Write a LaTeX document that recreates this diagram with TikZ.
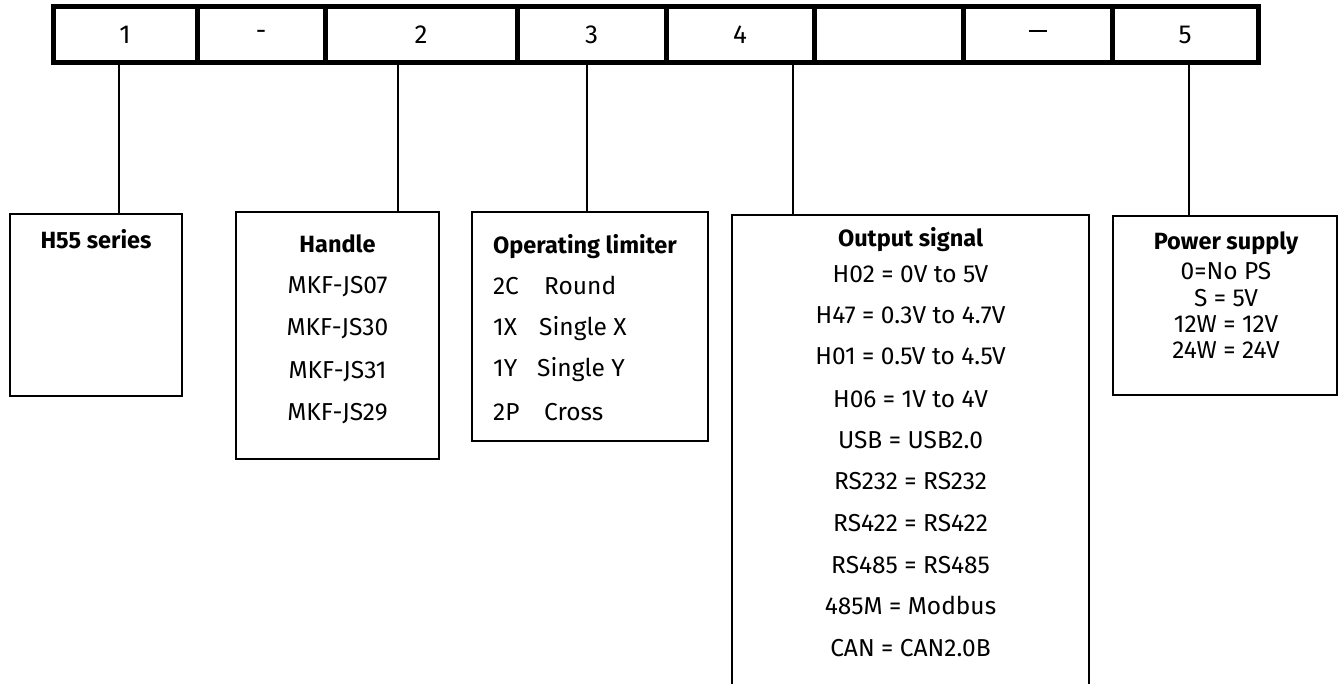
\documentclass[tikz,border=0pt]{standalone}
\usepackage{fontspec}
\setmainfont{Fira Sans}
\begin{document}
\begin{tikzpicture}[x=1pt,y=-1pt,
  cell/.style={draw, line width=5pt, minimum height=56.5pt, inner sep=0pt, font=\fontsize{26}{26}\selectfont},
  box/.style={draw, line width=2pt, inner sep=0pt},
  conn/.style={line width=2pt},
  head/.style={anchor=base, inner sep=0pt, font=\fontsize{23.5}{23.5}\selectfont\bfseries},
  item/.style={anchor=base, inner sep=0pt, font=\fontsize{24.5}{24.5}\selectfont},
  itemw/.style={anchor=base west, inner sep=0pt, font=\fontsize{24.5}{24.5}\selectfont}]
\useasboundingbox (0,0) rectangle (1341,684);
% code bar
\node[cell, minimum width=144pt] (c1) at (125,34.75) {1};
\node[cell, minimum width=128pt] (c2) at (261,34.75) {\raisebox{-5pt}{-}};
\node[cell, minimum width=192pt] (c3) at (421,34.75) {2};
\node[cell, minimum width=149pt] (c4) at (591.5,34.75) {3};
\node[cell, minimum width=148pt] (c5) at (740,34.75) {4};
\node[cell, minimum width=149pt] (c6) at (888.5,34.75) {};
\node[cell, minimum width=149pt] (c7) at (1037.5,34.75) {\rule[8pt]{18pt}{1.6pt}};
\node[cell, minimum width=146pt] (c8) at (1185,34.75) {5};
% boxes
\node[box, minimum width=172pt, minimum height=182pt] (b1) at (96,305) {};
\node[box, minimum width=203pt, minimum height=247pt] (b2) at (337.5,335.5) {};
\node[box, minimum width=236pt, minimum height=229pt] (b3) at (590,326.5) {};
\node[inner sep=0pt, minimum width=357pt, minimum height=469pt] (b4) at (910.5,449.5) {};
\draw[line width=2pt] (b4.south west) -- (b4.north west) -- (b4.north east) -- (b4.south east);
\node[box, minimum width=224pt, minimum height=179pt] (b5) at (1225,305.5) {};
% connectors
\coordinate (k1) at (119,63);
\coordinate (k2) at (398,63);
\coordinate (k3) at (587,63);
\coordinate (k4) at (793,63);
\coordinate (k5) at (1189,63);
\draw[conn] (k1) -- (k1 |- b1.north);
\draw[conn] (k2) -- (k2 |- b2.north);
\draw[conn] (k3) -- (k3 |- b3.north);
\draw[conn] (k4) -- (k4 |- b4.north);
\draw[conn] (k5) -- (k5 |- b5.north);
% box 1
\node[head] (h1) at (96,249) {H55 series};
% box 2
\node[head] (h2) at (337.5,253) {Handle};
\node[item] (m1) at (337.5,294) {MKF-JS07};
\node[item] (m2) at (337.5,336) {MKF-JS30};
\node[item] (m3) at (337.5,378) {MKF-JS31};
\node[item] (m4) at (337.5,420) {MKF-JS29};
% box 3
\node[head, anchor=base west] (h3) at (493,254) {Operating limiter};
\node[itemw] (o1) at (493,295) {\rlap{2C}\hspace{51pt}Round};
\node[itemw] (o2) at (493,336) {\rlap{1X}\hspace{46pt}Single X};
\node[itemw] (o3) at (493,377) {\rlap{1Y}\hspace{44pt}Single Y};
\node[itemw] (o4) at (493,420) {\rlap{2P}\hspace{51pt}Cross};
% box 4
\node[head] (h4) at (910.5,247) {Output signal};
\node[item] (s1) at (910.5,283) {H02 = 0V to 5V};
\node[item] (s2) at (910.5,324) {H47 = 0.3V to 4.7V};
\node[item] (s3) at (910.5,365) {H01 = 0.5V to 4.5V};
\node[item] (s4) at (910.5,407) {H06 = 1V to 4V};
\node[item] (s5) at (910.5,448) {USB = USB2.0};
\node[item] (s6) at (910.5,489) {RS232 = RS232};
\node[item] (s7) at (910.5,531) {RS422 = RS422};
\node[item] (s8) at (910.5,573) {RS485 = RS485};
\node[item] (s9) at (910.5,614) {485M = Modbus};
\node[item] (s10) at (910.5,656) {CAN = CAN2.0B};
% box 5
\node[head] (h5) at (1226,250) {Power supply};
\node[item] (p1) at (1226,280) {0=No PS};
\node[item] (p2) at (1226,307) {S = 5V};
\node[item] (p3) at (1226,333) {12W = 12V};
\node[item] (p4) at (1226,359) {24W = 24V};
\end{tikzpicture}
\end{document}
